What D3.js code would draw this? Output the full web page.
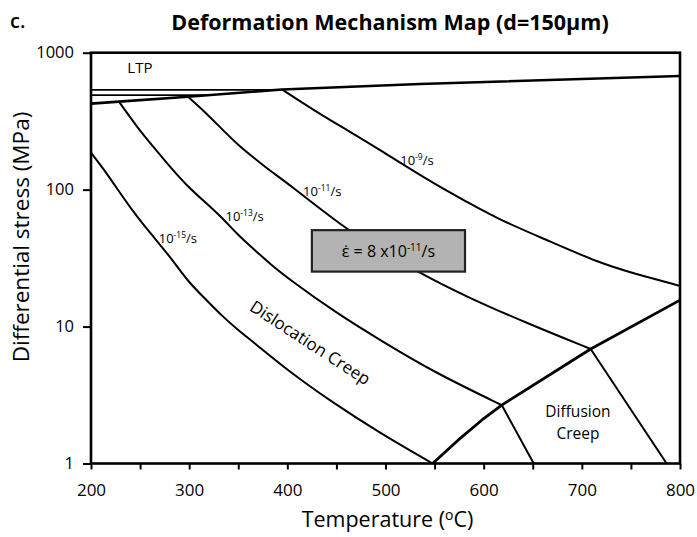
<!DOCTYPE html>
<html>
<head>
<meta charset="utf-8">
<script src="https://cdn.jsdelivr.net/npm/d3@7/dist/d3.min.js"></script>
<style>
  html, body { margin: 0; padding: 0; background: #fff; }
  svg { display: block; font-family: "Open Sans", "Noto Sans", sans-serif; }
</style>
</head>
<body>
<svg id="chart" width="697" height="537"></svg>
<script>
// Deformation mechanism map, d = 150 µm. Each series is [temperature °C, stress MPa].
const ltpBoundary = [[200, 425], [228.5, 439], [298.8, 477], [394.6, 539], [535, 591], [800, 676]];
const ltpUpper    = [[200, 535], [390, 535]];
const ltpMiddle   = [[200, 490], [319, 490]];

const rate9  = [[394.6, 539], [426.4, 382], [460.5, 273], [494.4, 195], [548.7, 111], [582.7, 81.6],
                [616.6, 60], [664.2, 42.9], [718.5, 29], [752.4, 24.5], [800, 19.8]];
const rate11 = [[298.8, 477], [315.8, 371], [332.7, 280], [349.7, 212], [366.8, 169], [383.7, 135],
                [400.7, 111], [460.5, 50.7], [499.4, 34.7], [538.5, 23.8], [582.7, 16.5],
                [643.8, 10.6], [709, 6.86]];
const rate13 = [[228.5, 439], [247.9, 280], [264.9, 200], [281.8, 143], [298.8, 105], [315.8, 81.6],
                [332.7, 63.4], [349.7, 46.6], [366.8, 36.2], [383.7, 28.2], [400.7, 22.5],
                [450.3, 12.5], [494.4, 7.98], [548.4, 4.68], [618.4, 2.67]];
const rate15 = [[200, 186], [217.3, 128], [230.9, 91.4], [247.9, 61.8], [264.9, 44.1], [281.8, 31.5],
                [298.8, 21.3], [315.8, 16.1], [332.7, 12.1], [349.7, 9.44], [366.8, 7.55],
                [399.7, 4.82], [446.5, 2.77], [494.4, 1.67], [548, 1]];

// Dislocation / diffusion creep field boundary and the diffusion-field iso-rate lines
const diffusionBoundary = [[548, 1], [573.9, 1.48], [598.3, 2.08], [618.4, 2.67], [709, 6.86], [800, 15.6]];
const diffusion13 = [[618.4, 2.67], [651, 1]];
const diffusion11 = [[709, 6.86], [786.4, 1]];

const xTicks = [200, 250, 300, 350, 400, 450, 500, 550, 600, 650, 700, 750, 800];
const yTicks = [1, 10, 100, 1000];

// Rate labels: [temperature, stress, exponent]
const rateLabels = [[515, 151, "-9"], [416, 89.8, "-11"], [337, 59, "-13"], [269, 40.8, "-15"]];
// Annotation box corners (temperature, stress)
const boxT = [425, 581];
const boxS = [50.6, 25.2];

const svg = d3.select("#chart");
const x = d3.scaleLinear().domain([200, 800]).range([91, 680]);
const y = d3.scaleLog().domain([1, 1000]).range([463.5, 52.7]);

const line = d3.line().x(d => x(d[0])).y(d => y(d[1])).curve(d3.curveBasis);
const straight = d3.line().x(d => x(d[0])).y(d => y(d[1]));

// Axes
const xAxis = svg.append("g")
  .attr("transform", `translate(0,${y(1)})`)
  .call(d3.axisBottom(x).tickValues(xTicks).tickSize(6).tickPadding(14)
    .tickFormat(d => d % 100 === 0 ? d : ""));
const yAxis = svg.append("g")
  .attr("transform", `translate(${x(200)},0)`)
  .call(d3.axisLeft(y).tickValues(yTicks).tickSize(8).tickPadding(9).tickFormat(d3.format("d")));
[xAxis, yAxis].forEach(g => {
  g.select(".domain").remove();
  g.selectAll(".tick line").attr("stroke", "#000").attr("stroke-width", 2);
  g.selectAll(".tick text").attr("fill", "#000").style("font-size", "17px")
    .style("font-family", "'Open Sans', sans-serif");
});
yAxis.selectAll(".tick text").style("font-size", "16.5px");

// Curves
const plot = svg.append("g").attr("fill", "none").attr("stroke", "#000").attr("stroke-linejoin", "round");
plot.append("path").attr("d", straight(ltpUpper)).attr("stroke-width", 1.6);
plot.append("path").attr("d", straight(ltpMiddle)).attr("stroke-width", 1.6);
plot.append("path").attr("d", straight(ltpBoundary)).attr("stroke-width", 2.6);
[rate9, rate11, rate13, rate15].forEach(c => {
  plot.append("path").attr("d", line(c)).attr("stroke-width", 2);
});
plot.append("path").attr("d", straight(diffusionBoundary)).attr("stroke-width", 2.8);
plot.append("path").attr("d", straight(diffusion13)).attr("stroke-width", 2);
plot.append("path").attr("d", straight(diffusion11)).attr("stroke-width", 2);

// Plot frame
svg.append("rect")
  .attr("x", x(200)).attr("y", y(1000))
  .attr("width", x(800) - x(200)).attr("height", y(1) - y(1000))
  .attr("fill", "none").attr("stroke", "#000").attr("stroke-width", 2.6);

// Strain-rate labels
rateLabels.forEach(([t, s, e]) => {
  const txt = svg.append("text").attr("x", x(t)).attr("y", y(s))
    .style("font-size", "13px").attr("fill", "#000");
  txt.append("tspan").text("10");
  txt.append("tspan").attr("dy", -5).style("font-size", "8.5px").text(e);
  txt.append("tspan").attr("dy", 5).text("/s");
});

// Annotation box
svg.append("rect")
  .attr("x", x(boxT[0])).attr("y", y(boxS[0]))
  .attr("width", x(boxT[1]) - x(boxT[0])).attr("height", y(boxS[1]) - y(boxS[0]))
  .attr("fill", "#b3b3b3").attr("stroke", "#222").attr("stroke-width", 2.2);
const bx = (x(boxT[0]) + x(boxT[1])) / 2, by = (y(boxS[0]) + y(boxS[1])) / 2;
const eq = svg.append("text").attr("x", bx).attr("y", by + 6).attr("text-anchor", "middle")
  .style("font-size", "16px").attr("fill", "#000");
eq.append("tspan").text("ε\u0307 = 8 x10");
eq.append("tspan").attr("dy", -6).style("font-size", "10px").text("-11");
eq.append("tspan").attr("dy", 6).text("/s");

// Field labels
svg.append("text").attr("x", x(237)).attr("y", y(715)).style("font-size", "15px").text("LTP");
svg.append("text")
  .attr("transform", `translate(${x(420)},${y(7.0)}) rotate(33)`)
  .attr("text-anchor", "middle").style("font-size", "17px").text("Dislocation Creep");
const diff = svg.append("text").attr("text-anchor", "middle").style("font-size", "15.5px");
diff.append("tspan").attr("x", x(696)).attr("y", y(2.17)).text("Diffusion");
diff.append("tspan").attr("x", x(696)).attr("y", y(1.52)).text("Creep");

// Titles
svg.append("text").attr("x", 10).attr("y", 28).style("font-size", "20px").style("font-weight", 600).text("c.");
svg.append("text").attr("x", 390).attr("y", 30).attr("text-anchor", "middle")
  .style("font-size", "21.5px").style("font-weight", "bold")
  .text("Deformation Mechanism Map (d=150\u03BCm)");

const xl = svg.append("text").attr("x", (x(200) + x(800)) / 2 + 2).attr("y", 527)
  .attr("text-anchor", "middle").style("font-size", "21.5px");
xl.append("tspan").text("Temperature (");
xl.append("tspan").attr("dy", -7).style("font-size", "14px").text("o");
xl.append("tspan").attr("dy", 7).text("C)");

svg.append("text")
  .attr("transform", `translate(29,237) rotate(-90)`)
  .attr("text-anchor", "middle").style("font-size", "22.5px")
  .text("Differential stress (MPa)");
</script>
</body>
</html>
